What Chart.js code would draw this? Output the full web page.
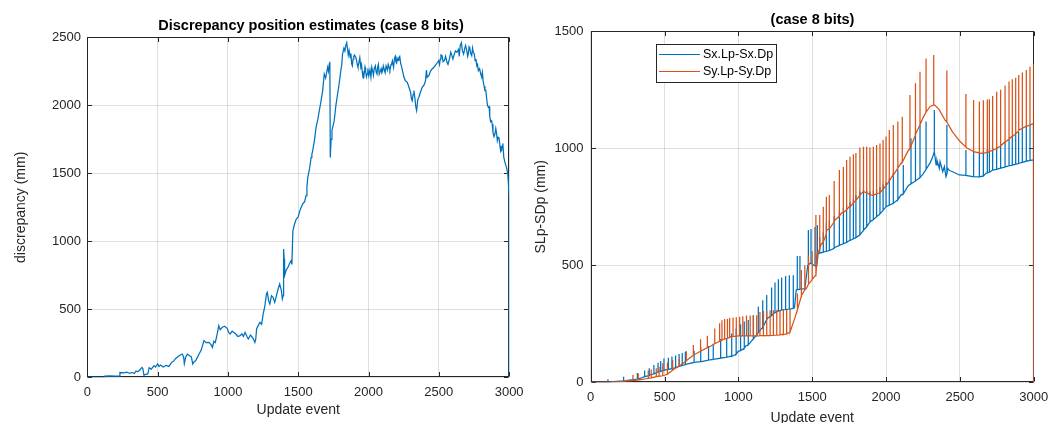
<!DOCTYPE html>
<html>
<head>
<meta charset="utf-8">
<title>Discrepancy position estimates (case 8 bits)</title>
<script src="https://cdn.jsdelivr.net/npm/chart.js@4.4.0/dist/chart.umd.min.js"></script>
<style>
  html, body { margin: 0; padding: 0; background: #fff; overflow: hidden; }
  #wrap { position: relative; width: 1062px; height: 423px; overflow: hidden; }
  .panel { position: absolute; top: 0; }
  #left-panel { left: 0; }
  #right-panel { left: 531px; }
</style>
</head>
<body>
<div id="wrap">
  <div class="panel" id="left-panel"><canvas id="discrepancy-chart" width="531" height="423"></canvas></div>
  <div class="panel" id="right-panel"><canvas id="slp-chart" width="531" height="440"></canvas></div>
</div>
<script>
// tick values shared by both panels
const xTicks = [0, 500, 1000, 1500, 2000, 2500, 3000];
const discTicks = [0, 500, 1000, 1500, 2000, 2500];
const slpTicks = [0, 500, 1000, 1500];

// left panel: [update event, discrepancy mm]
const discrepancy = [
  [0,0],[60,0],[120,0],[125,8],[160,10],[200,8],[228,9],[232,35],[260,32],[280,38],[300,30],[320,35],
  [335,28],[345,45],[360,42],[375,55],[388,73],[395,65],[403,15],[415,22],[430,25],[440,70],[455,60],
  [475,86],[485,75],[500,98],[510,80],[520,90],[540,75],[560,88],[580,80],[600,110],[615,120],[625,135],
  [640,147],[655,160],[675,171],[685,150],[690,100],[700,150],[712,170],[725,160],[740,150],[750,98],
  [760,115],[770,122],[785,150],[795,171],[810,200],[830,270],[845,255],[865,257],[880,240],[890,220],
  [900,265],[910,255],[920,300],[935,380],[945,350],[960,368],[975,375],[995,360],[1005,330],[1016,319],
  [1030,340],[1040,331],[1055,320],[1070,300],[1087,306],[1100,320],[1110,300],[1122,331],[1135,300],
  [1145,282],[1160,310],[1169,300],[1180,285],[1192,257],[1198,280],[1204,355],[1215,380],[1228,404],
  [1240,390],[1251,466],[1262,520],[1274,613],[1280,625],[1290,560],[1298,539],[1310,600],[1321,588],
  [1333,551],[1345,600],[1360,660],[1368,686],[1380,640],[1387,576],[1393,600],[1396,944],[1400,870],
  [1403,748],[1415,790],[1427,809],[1440,840],[1450,858],[1455,830],[1462,1078],[1474,1127],[1486,1164],
  [1500,1180],[1510,1220],[1521,1250],[1535,1280],[1545,1290],[1556,1336],[1562,1400],[1568,1470],
  [1580,1530],[1592,1617],[1597,1640],[1603,1667],[1615,1740],[1627,1838],[1640,1900],[1650,1961],
  [1662,2030],[1674,2108],[1685,2230],[1695,2200],[1709,2280],[1715,2250],[1721,2304],[1725,2320],
  [1728,1617],[1734,1750],[1740,1814],[1748,1850],[1756,1887],[1768,2000],[1780,2083],[1790,2150],
  [1803,2255],[1810,2300],[1815,2377],[1825,2420],[1832,2400],[1838,2439],[1845,2460],[1850,2420],
  [1856,2370],[1862,2402],[1870,2350],[1875,2380],[1880,2304],[1885,2290],[1890,2340],[1895,2360],
  [1900,2370],[1909,2353],[1915,2330],[1920,2300],[1925,2280],[1932,2316],[1938,2350],[1945,2280],
  [1950,2300],[1955,2250],[1960,2206],[1965,2200],[1970,2240],[1975,2280],[1979,2255],[1985,2210],
  [1990,2230],[1995,2270],[2002,2218],[2010,2260],[2017,2206],[2023,2280],[2030,2250],[2035,2220],
  [2040,2267],[2048,2290],[2055,2240],[2060,2230],[2065,2280],[2070,2300],[2076,2230],[2083,2250],
  [2090,2270],[2095,2240],[2100,2250],[2105,2290],[2111,2267],[2118,2240],[2125,2290],[2135,2260],
  [2140,2300],[2146,2280],[2152,2260],[2160,2300],[2165,2310],[2170,2328],[2178,2280],[2185,2345],
  [2190,2360],[2195,2320],[2200,2310],[2205,2341],[2210,2330],[2215,2350],[2222,2360],[2229,2304],
  [2234,2290],[2240,2260],[2252,2206],[2262,2180],[2276,2169],[2285,2140],[2299,2096],[2305,2050],
  [2311,2034],[2317,2080],[2323,2108],[2330,2050],[2336,1990],[2342,1961],[2350,2040],[2358,2059],
  [2370,2100],[2382,2132],[2395,2150],[2405,2180],[2412,2260],[2417,2206],[2430,2220],[2440,2250],
  [2452,2267],[2465,2280],[2480,2300],[2499,2328],[2505,2300],[2510,2340],[2515,2370],[2523,2365],
  [2530,2320],[2540,2330],[2548,2360],[2558,2316],[2565,2300],[2575,2340],[2585,2390],[2593,2365],
  [2600,2340],[2610,2375],[2618,2400],[2629,2390],[2640,2410],[2645,2360],[2652,2439],[2660,2460],
  [2668,2400],[2676,2377],[2685,2420],[2690,2440],[2699,2402],[2705,2360],[2710,2380],[2715,2430],
  [2720,2420],[2727,2380],[2734,2365],[2740,2420],[2745,2390],[2752,2380],[2758,2328],[2764,2340],
  [2770,2290],[2775,2300],[2781,2255],[2790,2270],[2798,2230],[2805,2206],[2810,2240],[2815,2180],
  [2822,2140],[2828,2108],[2834,2110],[2840,2050],[2846,2000],[2852,1985],[2858,1990],[2862,1920],
  [2868,1880],[2875,1887],[2880,1860],[2885,1800],[2892,1770],[2899,1789],[2905,1830],[2910,1800],
  [2916,1740],[2922,1765],[2928,1760],[2935,1700],[2940,1660],[2946,1667],[2950,1700],[2955,1720],
  [2962,1617],[2970,1580],[2981,1544],[2990,1500],[2995,1420],[3000,1323],[3000,0]
];

// right panel baselines: [update event, mm]
const sxBase = [
  [0,0],[120,0],[150,3],[200,5],[250,8],[300,12],[350,20],[400,30],[450,42],[500,52],[550,58],[600,68],
  [650,78],[700,85],[750,88],[800,95],[850,100],[900,105],[950,112],[1000,133],[1050,155],[1100,185],
  [1150,225],[1200,275],[1250,298],[1300,310],[1350,313],[1380,318],[1392,395],[1420,398],[1450,400],
  [1470,500],[1490,510],[1510,500],[1530,495],[1540,550],[1600,560],[1650,575],[1700,590],[1750,605],
  [1800,620],[1850,650],[1900,690],[1950,715],[2000,750],[2050,765],[2100,800],[2150,840],[2200,860],
  [2250,890],[2300,940],[2316,964],[2327,986],[2339,929],[2345,950],[2361,914],[2366,943],[2384,900],
  [2395,922],[2406,879],[2418,914],[2430,905],[2451,900],[2496,886],[2541,884],[2587,879],[2632,878],
  [2677,893],[2722,907],[2770,914],[2813,922],[2860,929],[2903,936],[2950,945],[3000,950],[3000,0]
];
const syBase = [
  [0,0],[120,0],[200,3],[300,8],[350,12],[400,18],[450,25],[500,30],[530,40],[560,55],[600,70],[650,92],
  [700,118],[750,135],[800,150],[850,168],[900,185],[950,195],[1000,198],[1100,198],[1200,200],[1300,205],
  [1350,215],[1380,270],[1400,310],[1430,370],[1460,400],[1490,430],[1520,455],[1535,550],[1560,590],
  [1600,650],[1650,690],[1700,725],[1750,750],[1800,780],[1850,815],[1900,800],[1950,808],[2000,840],
  [2050,885],[2100,935],[2150,990],[2200,1060],[2250,1130],[2300,1180],[2330,1185],[2360,1165],
  [2400,1120],[2450,1070],[2500,1030],[2550,1000],[2600,985],[2650,978],[2700,985],[2750,1000],
  [2800,1025],[2850,1050],[2900,1078],[2950,1095],[3000,1105],[3000,0]
];

// right panel spikes: [update event, foot mm, peak mm]
const sxSpikes = [
  [117,0,13],[223,5,24],[316,14,40],[365,24,50],[395,28,60],[428,36,74],[456,44,84],[474,47,91],
  [496,51,102],[526,55,105],[550,58,110],[575,63,115],[598,68,121],[620,72,125],[641,76,131],[700,85,135],
  [745,88,150],[797,95,155],[830,98,165],[880,103,185],[921,107,188],[955,111,209],[985,120,230],
  [1015,135,248],[1040,145,260],[1067,160,266],[1101,185,287],[1135,212,323],[1165,235,351],[1192,268,373],
  [1225,285,405],[1248,298,426],[1271,304,440],[1293,309,448],[1320,311,454],[1345,313,457],[1372,316,458],
  [1399,396,540],[1417,398,540],[1474,502,651],[1492,510,655],[1519,498,664],[1535,520,672],
  [1551,552,620],[1575,556,640],[1594,560,680],[1616,563,690],[1648,572,710],[1684,585,730],[1711,592,745],
  [1733,598,760],[1756,606,770],[1779,613,785],[1796,618,800],[1823,630,815],[1846,648,825],[1869,665,820],
  [1891,685,815],[1914,695,820],[1936,708,825],[1959,720,835],[1980,735,845],[2000,750,855],[2022,757,870],
  [2049,765,895],[2080,780,910],[2117,805,929],[2169,848,1043],[2199,860,1070],[2230,875,1100],
  [2271,910,1114],[2327,986,1164],[2412,890,1100],[2541,884,993],[2593,879,990],[2632,878,985],
  [2659,882,990],[2686,895,995],[2700,898,997],[2722,907,1000],[2749,910,1005],[2776,915,1015],
  [2806,920,1025],[2833,925,1040],[2855,928,1050],[2878,932,1060],[2898,935,1070],[2923,940,1085],
  [2950,945,1095],[2975,948,1100]
];
const sySpikes = [
  [286,8,31],[322,10,38],[390,17,50],[410,19,55],[444,24,60],[463,26,66],[488,28,81],[520,35,85],
  [555,52,95],[600,70,100],[646,90,134],[695,116,159],[744,133,184],[790,148,199],[840,165,230],
  [873,175,252],[889,180,265],[907,185,270],[926,188,272],[941,192,275],[964,196,277],[986,197,278],
  [1009,198,280],[1030,198,282],[1055,198,285],[1080,198,285],[1102,198,287],[1124,198,287],
  [1146,199,300],[1170,199,305],[1192,200,305],[1215,200,308],[1237,201,308],[1260,202,310],
  [1282,203,310],[1305,204,310],[1327,207,310],[1350,215,312],[1400,310,380],[1425,365,480],
  [1450,395,500],[1475,420,540],[1500,440,560],[1525,455,715],
  [1551,570,715],[1575,600,750],[1594,630,793],[1616,655,800],[1648,685,860],[1684,710,907],
  [1711,725,920],[1733,737,950],[1756,750,964],[1779,765,975],[1796,780,980],[1823,800,1003],
  [1846,815,1007],[1869,810,1007],[1891,802,1003],[1914,800,1007],[1936,805,1014],[1959,810,1020],
  [1980,825,1035],[2000,840,1050],[2022,860,1078],[2049,888,1100],[2080,915,1115],[2110,940,1135],
  [2162,1000,1228],[2199,1055,1278],[2230,1100,1327],[2271,1155,1384],[2323,1185,1399],[2412,1112,1332],
  [2541,1005,1232],[2593,986,1206],[2632,980,1200],[2659,978,1205],[2686,983,1209],[2700,985,1210],
  [2722,992,1224],[2749,998,1242],[2776,1010,1250],[2806,1025,1268],[2833,1040,1285],[2855,1050,1295],
  [2878,1062,1302],[2898,1075,1313],[2923,1085,1324],[2950,1093,1335],[2975,1100,1349],[2998,1105,1360]
];

const BLUE = '#0072BD';
const ORANGE = '#D95319';
const INK = '#262626';
const FONT = '"Liberation Sans", Arial, Helvetica, sans-serif';

Chart.defaults.font.family = FONT;
Chart.defaults.color = INK;

// baseline points plus a vertical up/down stroke for every spike
function withSpikes(base, spikes) {
    const pts = base.map(([x, y]) => ({ x, y }));
    spikes.forEach(([x, foot, peak]) => {
        pts.push({ x, y: foot }, { x, y: peak }, { x, y: foot });
    });
    return pts.sort((a, b) => a.x - b.x); // stable, keeps spike order
}

// matlab style box with inward ticks on all four sides (under the data)
const axesBox = {
    id: 'axesBox',
    beforeDatasetsDraw(chart) {
        const { ctx, chartArea: a, scales } = chart;
        const len = 4.5;
        const l = Math.round(a.left) + 0.5, r = Math.round(a.right) - 0.5;
        const t = Math.round(a.top) + 0.5, b = Math.round(a.bottom) - 0.5;
        ctx.save();
        ctx.strokeStyle = INK;
        ctx.lineWidth = 1;
        ctx.strokeRect(l, t, r - l, b - t);
        ctx.beginPath();
        scales.x.ticks.forEach(tk => {
            const px = Math.round(scales.x.getPixelForValue(tk.value)) + 0.5;
            ctx.moveTo(px, b); ctx.lineTo(px, b - len);
            ctx.moveTo(px, t); ctx.lineTo(px, t + len);
        });
        scales.y.ticks.forEach(tk => {
            const py = Math.round(scales.y.getPixelForValue(tk.value)) + 0.5;
            ctx.moveTo(l, py); ctx.lineTo(l + len, py);
            ctx.moveTo(r, py); ctx.lineTo(r - len, py);
        });
        ctx.stroke();
        ctx.restore();
    }
};

const figureTitle = {
    id: 'figureTitle',
    afterDraw(chart, args, opts) {
        const ctx = chart.ctx;
        ctx.save();
        ctx.font = `bold 14.5px ${FONT}`;
        ctx.fillStyle = '#000';
        ctx.textAlign = 'center';
        ctx.textBaseline = 'middle';
        ctx.fillText(opts.text, opts.x, opts.y);
        ctx.restore();
    }
};

const boxedLegend = {
    id: 'boxedLegend',
    afterDraw(chart, args, opts) {
        if (!opts.show) return;
        const ctx = chart.ctx;
        ctx.save();
        ctx.fillStyle = '#fff';
        ctx.fillRect(opts.left, opts.top, opts.width, opts.height);
        ctx.strokeStyle = INK;
        ctx.lineWidth = 1;
        ctx.strokeRect(opts.left + 0.5, opts.top + 0.5, opts.width, opts.height);
        ctx.font = `12.5px ${FONT}`;
        ctx.textBaseline = 'middle';
        chart.data.datasets.forEach((ds, i) => {
            const y = Math.round(opts.top + opts.firstRow + i * opts.rowHeight) + 0.5;
            ctx.strokeStyle = ds.borderColor;
            ctx.lineWidth = 1.2;
            ctx.beginPath();
            ctx.moveTo(opts.left + 3, y);
            ctx.lineTo(opts.left + 3 + opts.lineLength, y);
            ctx.stroke();
            ctx.fillStyle = '#000';
            ctx.fillText(ds.label, opts.left + 6 + opts.lineLength, y);
        });
        ctx.restore();
    }
};

function panelOptions(p) {
    const tickFont = { size: 13 };
    return {
        responsive: false,
        animation: false,
        devicePixelRatio: 1,
        layout: { padding: { top: p.top, right: p.right, left: 0, bottom: 0 } },
        elements: { point: { radius: 0 }, line: { tension: 0, borderWidth: 1.25 } },
        plugins: {
            legend: { display: false },
            tooltip: { enabled: false },
            figureTitle: p.title,
            boxedLegend: p.legend || { show: false }
        },
        scales: {
            x: {
                type: 'linear',
                min: 0, max: 3000,
                afterBuildTicks: s => { s.ticks = xTicks.map(v => ({ value: v })); },
                afterFit: s => { s.height = p.xHeight; },
                ticks: { font: tickFont, padding: 7.4, autoSkip: false, maxRotation: 0, callback: v => String(v) },
                grid: { color: 'rgba(38,38,38,0.15)', drawTicks: false },
                border: { display: false },
                title: { display: true, text: 'Update event', font: { size: 14 }, padding: { top: 0, bottom: p.xTitlePad } }
            },
            y: {
                type: 'linear',
                min: 0, max: p.yMax,
                afterBuildTicks: s => { s.ticks = p.yTicks.map(v => ({ value: v })); },
                afterFit: s => { s.width = p.yWidth; },
                ticks: { font: tickFont, padding: p.yTickPad, autoSkip: false, callback: v => String(v) },
                grid: { color: 'rgba(38,38,38,0.15)', drawTicks: false },
                border: { display: false },
                title: { display: true, text: p.yTitle, font: { size: 14 }, padding: { top: p.yTitlePad, bottom: 0 } }
            }
        }
    };
}

document.addEventListener('DOMContentLoaded', () => {
    new Chart(document.getElementById('discrepancy-chart'), {
        type: 'line',
        data: {
            datasets: [{
                label: 'discrepancy',
                data: discrepancy.map(([x, y]) => ({ x, y })).sort((a, b) => a.x - b.x),
                borderColor: BLUE
            }]
        },
        options: panelOptions({
            top: 37.3, right: 18.3, xHeight: 45.7, yWidth: 87.3,
            yMax: 2500, yTicks: discTicks, yTickPad: 6.3,
            yTitle: 'discrepancy (mm)', yTitlePad: 12.6, xTitlePad: 4.6,
            title: { text: 'Discrepancy position estimates (case 8 bits)', x: 311, y: 26 }
        }),
        plugins: [axesBox, figureTitle, boxedLegend]
    });

    new Chart(document.getElementById('slp-chart'), {
        type: 'line',
        data: {
            datasets: [{
                label: 'Sx.Lp-Sx.Dp',
                data: withSpikes(sxBase, sxSpikes),
                borderColor: BLUE,
                order: 1
            }, {
                label: 'Sy.Lp-Sy.Dp',
                data: withSpikes(syBase, sySpikes),
                borderColor: ORANGE,
                order: 0
            }]
        },
        options: panelOptions({
            top: 31.3, right: 28.3, xHeight: 57.7, yWidth: 59.7,
            yMax: 1500, yTicks: slpTicks, yTickPad: 7.2,
            yTitle: 'SLp-SDp (mm)', yTitlePad: 1.6, xTitlePad: 13.6,
            title: { text: '(case 8 bits)', x: 281.5, y: 20 },
            legend: { show: true, left: 125, top: 44, width: 120, height: 38, firstRow: 10, rowHeight: 16.7, lineLength: 41 }
        }),
        plugins: [axesBox, figureTitle, boxedLegend]
    });
});
</script>
</body>
</html>
